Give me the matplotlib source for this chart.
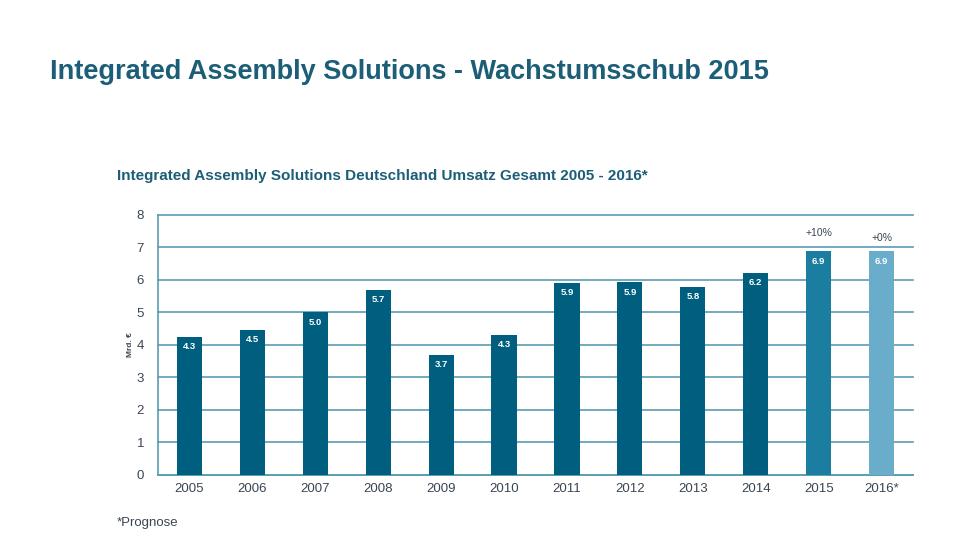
import matplotlib.pyplot as plt
import numpy as np

plt.rcParams['font.family'] = ['Liberation Sans', 'DejaVu Sans']

# Daten (Mrd. EUR)
years = ['2005', '2006', '2007', '2008', '2009', '2010', '2011', '2012', '2013', '2014', '2015', '2016*']
values = [4.26, 4.46, 5.0, 5.7, 3.7, 4.3, 5.9, 5.93, 5.78, 6.22, 6.88, 6.88]
labels = ['4.3', '4.5', '5.0', '5.7', '3.7', '4.3', '5.9', '5.9', '5.8', '6.2', '6.9', '6.9']
growth = {10: '+10%', 11: '+0%'}

dark = '#005f7f'
colors = [dark] * 10 + ['#1b7ea1', '#6aadca']
grid_col = '#5b9db2'
title_col = '#1c5e78'
text_col = '#3a4552'

fig = plt.figure(figsize=(9.6, 5.4), dpi=100)
ax = fig.add_axes([0.1646, 0.1204, 0.7865, 0.4815])

x = np.arange(len(years))
bars = ax.bar(x, values, width=0.4, color=colors, zorder=3)

# Werte in den Balken
for i, b in enumerate(bars):
    ax.text(b.get_x() + b.get_width() / 2, b.get_height() - 0.3, labels[i],
            ha='center', va='center', color='white', fontsize=6.8, fontweight='bold', zorder=4)

# Wachstum ueber 2015 / 2016
for i, t in growth.items():
    ax.text(x[i], values[i] + 0.55 - (0.15 if i == 11 else 0), t,
            ha='center', va='center', color=text_col, fontsize=7.5)

ax.set_xlim(-0.5, 11.5)
ax.set_ylim(0, 8)
ax.set_yticks(range(0, 9))
ax.set_xticks(x)
ax.set_xticklabels(years)
ax.yaxis.grid(True, color=grid_col, linewidth=1.2, zorder=0)
for gl in ax.get_ygridlines():
    gl.set_clip_on(False)
ax.tick_params(length=0, labelsize=9.5, labelcolor=text_col)
ax.tick_params(axis='y', pad=10)
ax.tick_params(axis='x', pad=6)
for s in ['top', 'right']:
    ax.spines[s].set_visible(False)
for s in ['left', 'bottom']:
    ax.spines[s].set_color(grid_col)
    ax.spines[s].set_linewidth(1.2)
ax.set_ylabel('Mrd. €', fontsize=6, color=text_col, fontweight='bold', labelpad=2)

fig.text(50 / 960, 1 - 72 / 540, 'Integrated Assembly Solutions - Wachstumsschub 2015',
         fontsize=19.5, fontweight='bold', color=title_col, va='center')
fig.text(117 / 960, 1 - 176 / 540, 'Integrated Assembly Solutions Deutschland Umsatz Gesamt 2005 - 2016*',
         fontsize=11, fontweight='bold', color=title_col, va='center')
fig.text(117 / 960, 1 - 523 / 540, '*Prognose', fontsize=9.5, color=text_col, va='center')

fig.savefig('out.png', dpi=100)
